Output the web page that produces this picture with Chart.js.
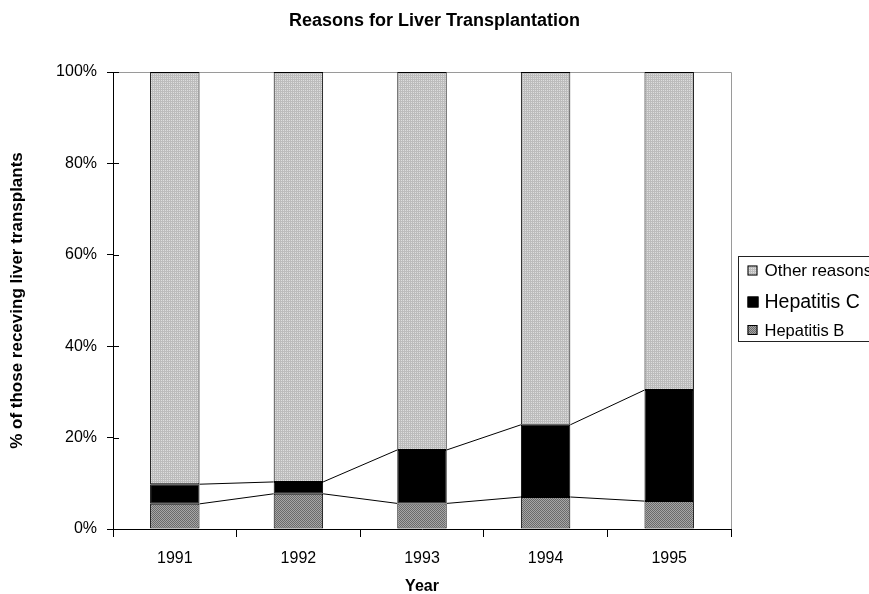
<!DOCTYPE html>
<html>
<head>
<meta charset="utf-8">
<script src="https://cdn.jsdelivr.net/npm/chart.js@4"></script>
<style>
  html, body { margin: 0; padding: 0; background: #fff; }
  #wrap { width: 869px; height: 594px; }
</style>
</head>
<body>
<div id="wrap"><canvas id="liverChart"></canvas></div>
<script>
// --- data (percent of transplants) ---
const years = ["1991", "1992", "1993", "1994", "1995"];
const hepatitisB = [5.5, 7.7, 5.6, 7.0, 6.1];
const hepatitisC = [4.3, 2.6, 11.7, 15.8, 24.3];
const otherReasons = years.map((y, i) => +(100 - hepatitisB[i] - hepatitisC[i]).toFixed(1));
const yTicks = [0, 20, 40, 60, 80, 100];
const chartTitle = "Reasons for Liver Transplantation";

const font = "'Liberation Sans', Arial, sans-serif";

// small fill patterns like the old Excel hatches
function makePattern(w, h, paint) {
  const c = document.createElement("canvas");
  c.width = w; c.height = h;
  paint(c.getContext("2d"));
  return c.getContext("2d").createPattern(c, "repeat");
}
const otherFill = makePattern(2, 2, g => {
  g.fillStyle = "#bcbcbc"; g.fillRect(0, 0, 2, 2);
  g.fillStyle = "#dedede"; g.fillRect(1, 0, 1, 1);
});
const hepBFill = makePattern(2, 2, g => {
  g.fillStyle = "#a6a6a6"; g.fillRect(0, 0, 2, 2);
  g.fillStyle = "#6a6a6a"; g.fillRect(0, 0, 1, 1); g.fillRect(1, 1, 1, 1);
});

// lines joining segment tops between bars
const seriesLines = {
  id: "seriesLines",
  afterDatasetsDraw(chart) {
    const ctx = chart.ctx;
    ctx.save();
    ctx.strokeStyle = "#000";
    ctx.lineWidth = 1;
    [0, 1].forEach(ds => {
      const bars = chart.getDatasetMeta(ds).data;
      for (let i = 0; i < bars.length - 1; i++) {
        const a = bars[i], b = bars[i + 1];
        ctx.beginPath();
        ctx.moveTo(a.x + a.width / 2, a.y);
        ctx.lineTo(b.x - b.width / 2, b.y);
        ctx.stroke();
      }
    });
    ctx.restore();
  }
};

// title, grey plot frame, inner half of the y ticks, legend box
const frameAndLegend = {
  id: "frameAndLegend",
  beforeDatasetsDraw(chart) {
    const { ctx, chartArea: a } = chart;
    ctx.save();
    ctx.strokeStyle = "#9a9a9a";
    ctx.lineWidth = 1;
    ctx.beginPath();
    ctx.moveTo(a.left, a.top + 0.5);
    ctx.lineTo(a.right + 0.5, a.top + 0.5);
    ctx.lineTo(a.right + 0.5, a.bottom);
    ctx.stroke();

    ctx.fillStyle = "#000";
    ctx.font = "bold 18px " + font;
    ctx.textAlign = "center";
    ctx.textBaseline = "middle";
    ctx.fillText(chartTitle, chart.width / 2, 21);
    ctx.restore();
  },
  afterDraw(chart) {
    const { ctx, chartArea: a, scales } = chart;
    ctx.save();
    ctx.strokeStyle = "#000";
    ctx.lineWidth = 1;
    yTicks.forEach(v => {
      const y = Math.round(scales.y.getPixelForValue(v)) + 0.5;
      ctx.beginPath();
      ctx.moveTo(a.left, y);
      ctx.lineTo(a.left + 6, y);
      ctx.stroke();
    });

    // legend
    const lx = a.right + 7.5, ly = 256.5;
    ctx.fillStyle = "#fff";
    ctx.fillRect(lx, ly, 140, 85);
    ctx.strokeStyle = "#222";
    ctx.strokeRect(lx, ly, 140, 85);
    const items = [2, 1, 0];
    const sizes = [17, 19.5, 16.5];
    const rows = [14, 45.5, 73.5];
    const box = [10, 11, 10];
    items.forEach((ds, k) => {
      const d = chart.data.datasets[ds];
      const cy = ly + rows[k];
      const s = box[k];
      ctx.fillStyle = d.backgroundColor;
      ctx.fillRect(lx + 9, cy - s / 2, s, s);
      ctx.strokeStyle = "#000";
      ctx.strokeRect(lx + 9.5, cy - s / 2 + 0.5, s - 1, s - 1);
      ctx.fillStyle = "#000";
      ctx.font = sizes[k] + "px " + font;
      ctx.textBaseline = "middle";
      ctx.textAlign = "left";
      ctx.fillText(d.label, lx + 26, cy + 1);
    });
    ctx.restore();
  }
};

new Chart(document.getElementById("liverChart"), {
  type: "bar",
  data: {
    labels: years,
    datasets: [
      { label: "Hepatitis B", data: hepatitisB, backgroundColor: hepBFill },
      { label: "Hepatitis C", data: hepatitisC, backgroundColor: "#000" },
      { label: "Other reasons", data: otherReasons, backgroundColor: otherFill }
    ].map(d => Object.assign(d, {
      borderColor: "#000",
      borderWidth: 1,
      borderSkipped: false,
      categoryPercentage: 1,
      barPercentage: 0.4
    }))
  },
  options: {
    responsive: true,
    maintainAspectRatio: false,
    animation: false,
    layout: { padding: { left: 0, right: 138, top: 72, bottom: 0 } },
    plugins: {
      legend: { display: false },
      tooltip: { enabled: false },
      title: { display: false }
    },
    scales: {
      x: {
        stacked: true,
        border: { color: "#000", width: 1 },
        grid: { offset: true, drawOnChartArea: false, tickLength: 8, color: "#000" },
        ticks: { color: "#000", font: { family: font, size: 16 }, padding: 12, maxRotation: 0 },
        title: {
          display: true, text: "Year", color: "#000",
          font: { family: font, size: 16, weight: "bold", lineHeight: 0.875 },
          padding: { top: 0, bottom: 0 }
        },
        afterFit(s) { s.height = 65; }
      },
      y: {
        stacked: true,
        min: 0, max: 100,
        border: { color: "#000", width: 1 },
        grid: { drawOnChartArea: false, tickLength: 6, color: "#000" },
        ticks: {
          stepSize: 20, color: "#000", padding: 10,
          font: { family: font, size: 16 },
          callback: v => v + "%"
        },
        title: {
          display: true, text: "% of those receving liver transplants", color: "#000",
          font: { family: font, size: 17, weight: "bold", lineHeight: 1.2 },
          padding: { top: 7 }
        },
        afterFit(s) { s.width = 113; }
      }
    }
  },
  plugins: [seriesLines, frameAndLegend]
});
</script>
</body>
</html>
